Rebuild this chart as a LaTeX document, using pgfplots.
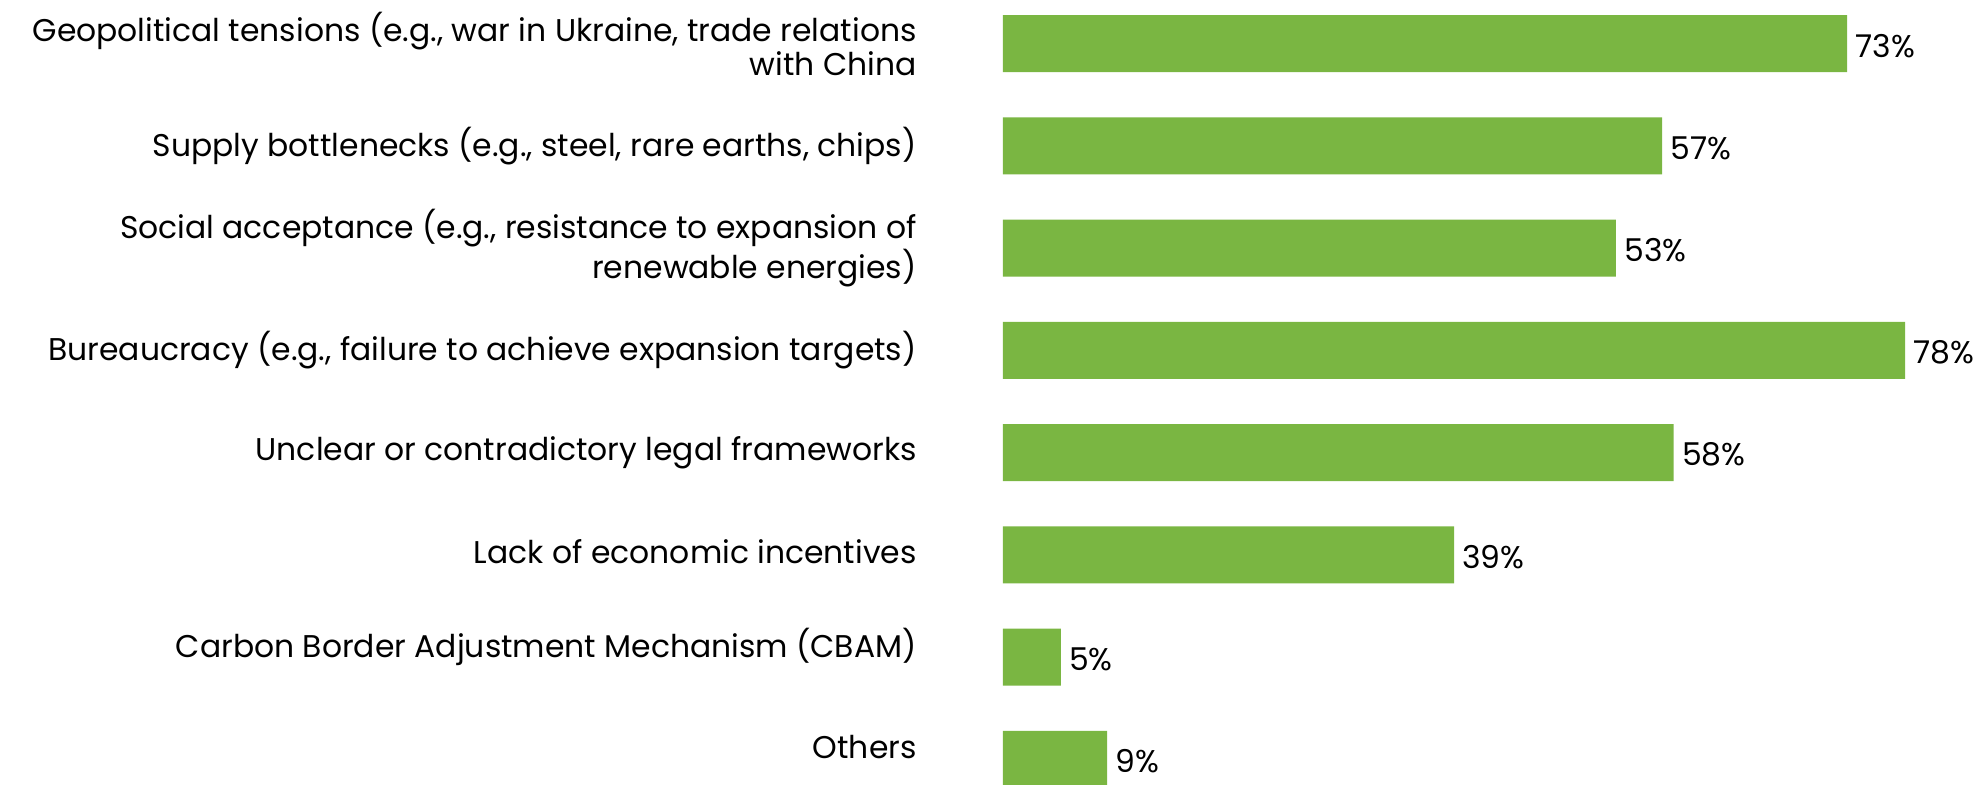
\documentclass[border=0pt]{standalone}
\usepackage{fontspec}
\setmainfont{Poppins}
\usepackage{pgfplots}
\pgfplotsset{compat=1.18}
\definecolor{bargreen}{RGB}{122,182,66}
\begin{document}
\begin{tikzpicture}
\path[use as bounding box] (0,0) rectangle (993pt,392.5pt);
\begin{axis}[
  at={(501.5pt,0pt)}, anchor=south west,
  scale only axis, width=451pt, height=385pt,
  xmin=0, xmax=78, ymin=-0.28, ymax=7.25,
  y dir=reverse,
  xbar, bar width=28.5pt,
  axis line style={draw=none},
  xtick=\empty,
  ytick={0,1,2,3,4,4.97,5.9,6.88},
  major tick length=0pt,
  yticklabels={{Geopolitical tensions (e.g., war in Ukraine, trade relations\\with China},
    {Supply bottlenecks (e.g., steel, rare earths, chips)},
    {Social acceptance (e.g., resistance to expansion of\\renewable energies)},
    {Bureaucracy (e.g., failure to achieve expansion targets)},
    {Unclear or contradictory legal frameworks},
    {Lack of economic incentives},
    {Carbon Border Adjustment Mechanism (CBAM)},
    {Others}},
  yticklabel style={align=right, inner sep=0pt, xshift=-43pt, font=\fontsize{15.7}{17}\selectfont},
  point meta=x,
  nodes near coords={\pgfmathprintnumber[assume math mode=true]{\pgfplotspointmeta}\%},
  nodes near coords style={anchor=west, inner sep=0pt, xshift=4pt, yshift=-1pt, font=\fontsize{15.7}{17}\selectfont},
  clip=false,
]
\addplot[fill=bargreen, draw=none] coordinates {(73,0) (57,1) (53,2) (78,3) (58,4) (39,5) (5,6) (9,7)};
\end{axis}
\end{tikzpicture}
\end{document}
